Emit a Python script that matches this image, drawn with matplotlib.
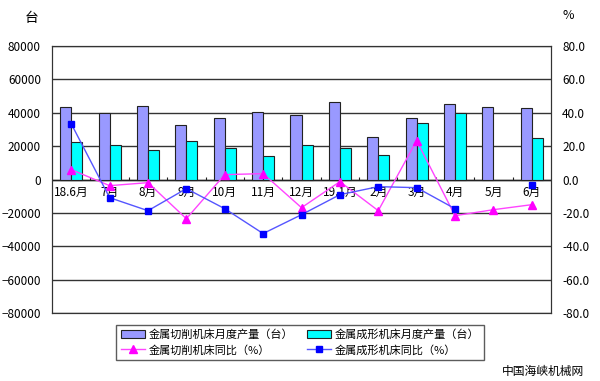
import numpy as np
import matplotlib.pyplot as plt

plt.rcParams['font.family'] = ['Noto Sans CJK SC', 'DejaVu Sans']

# 数据
months = ['18.6月', '7月', '8月', '9月', '10月', '11月', '12月',
          '19.1月', '2月', '3月', '4月', '5月', '6月']
cutting = [43700, 40100, 44300, 32900, 37100, 40700, 38900,
           46700, 25700, 37100, 45500, 43700, 43100]
forming = [22800, 21000, 18000, 23400, 19200, 14400, 21000,
           19200, 15000, 34100, 40100, np.nan, 25100]
cutting_yoy = [6.0, -3.6, -1.8, -23.4, 3.0, 3.6, -16.8,
               -1.2, -18.6, 23.4, -21.6, -18.0, -15.0]
forming_yoy = [33.5, -10.8, -18.6, -5.4, -17.4, -32.3, -21.0,
               -9.0, -4.2, -4.8, -17.4, np.nan, -3.0]

x = np.arange(len(months))
w = 0.287

fig = plt.figure(figsize=(6, 3.81), dpi=100)
ax = fig.add_axes([0.0867, 0.178, 0.8316, 0.701])
ax2 = ax.twinx()

# 柱状图
b1 = ax.bar(x, cutting, width=-w, align='edge', color='#9999FF',
            edgecolor='#222222', linewidth=0.8, zorder=3,
            label='金属切削机床月度产量（台）')
b2 = ax.bar(x, forming, width=w, align='edge', color='#00FFFF',
            edgecolor='#222222', linewidth=0.8, zorder=3,
            label='金属成形机床月度产量（台）')

ax.set_xlim(-0.5, len(months) - 0.5)
ax.set_ylim(-80000, 80000)
ax.set_yticks(np.arange(-80000, 80001, 20000))
ax.yaxis.grid(True, color='#333333', linewidth=1.0, zorder=0)
ax.set_axisbelow(True)
ax.set_xticks([])
ax.tick_params(axis='y', length=0, labelsize=8.5, pad=8)
for s in ax.spines.values():
    s.set_color('#333333')

# 类别标签与分隔刻度
ax.axhline(0, color='#222222', linewidth=1.0, zorder=2)
ax.vlines(x[:-1] + 0.5, 0, 1600, color='#222222', linewidth=0.8, zorder=2)
for xi, m in zip(x, months):
    ax.text(xi, -3500, m, ha='center', va='top', fontsize=8.5, zorder=5)

# 折线图
l1, = ax2.plot(x, cutting_yoy, color='#FF44FF', linewidth=1.0, marker='^',
               markersize=6, markerfacecolor='#FF00FF', markeredgecolor='#FF00FF',
               label='金属切削机床同比（%）')
l2, = ax2.plot(x, forming_yoy, color='#5555FF', linewidth=1.0, marker='s',
               markersize=5, markerfacecolor='#0000FF', markeredgecolor='#0000FF',
               label='金属成形机床同比（%）')
ax2.set_ylim(-80, 80)
ax2.set_yticks(np.arange(-80, 81, 20))
ax2.set_yticklabels(['%.1f' % v for v in np.arange(-80, 81, 20)])
ax2.tick_params(axis='y', length=0, labelsize=8.5, pad=8)
for s in ax2.spines.values():
    s.set_color('#333333')

fig.text(0.053, 0.953, '台', fontsize=10, ha='center', va='center')
fig.text(0.947, 0.96, '%', fontsize=9, ha='center', va='center')

fig.legend([b1, l1, b2, l2],
           [b1.get_label(), l1.get_label(), b2.get_label(), l2.get_label()],
           ncol=2, loc='center', bbox_to_anchor=(0.5, 0.102), fontsize=8,
           frameon=True, fancybox=False, edgecolor='#333333',
           handlelength=2.2, handletextpad=0.3, columnspacing=1.2,
           labelspacing=0.45, borderpad=0.4)

fig.text(0.905, 0.025, '中国海峡机械网', fontsize=8.5, ha='center', va='center')

fig.savefig('out.png', dpi=100)
